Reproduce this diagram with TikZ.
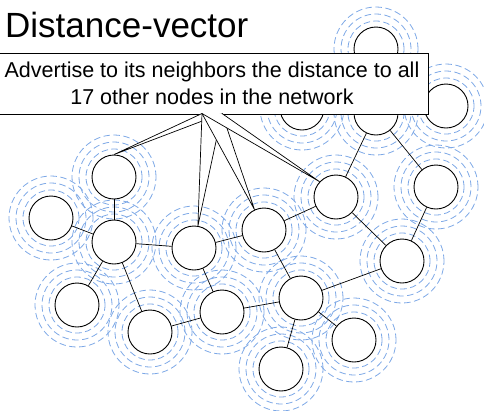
\documentclass[tikz,border=0pt]{standalone}
\usepackage{fontspec}
\setmainfont{Liberation Sans}
\definecolor{ringblue}{RGB}{125,168,230}
\usetikzlibrary{calc,backgrounds}

\begin{document}
\begin{tikzpicture}[x=1pt, y=-1pt,
  router/.style={circle, draw=black, line width=0.9pt, fill=white,
                 minimum size=44pt, inner sep=0pt},
  ring/.style={draw=ringblue, line width=0.8pt, dash pattern=on 6.5pt off 3.5pt},
  link/.style={draw=black, line width=0.7pt},
  callbox/.style={rectangle, draw=black, line width=1pt, fill=white,
                  minimum width=432pt, minimum height=61pt, align=center,
                  font=\fontsize{21.5}{26.7}\selectfont},
  tail/.style={draw=black, line width=0.7pt, fill=white}
]
\useasboundingbox (0,0) rectangle (484,410);

% Title
\node[anchor=base west, inner sep=0pt, font=\fontsize{35}{40}\selectfont]
  (title) at (5,37) {Distance-vector};

% Routers
\node[router] (n1)  at (376, 49) {};
\node[router] (n2)  at (302,108) {};
\node[router] (n3)  at (376,113) {};
\node[router] (n4)  at (446,106) {};
\node[router] (n5)  at (114,177) {};
\node[router] (n6)  at (336,197) {};
\node[router] (n7)  at (436,187) {};
\node[router] (n8)  at ( 51,218) {};
\node[router] (n9)  at (114,242) {};
\node[router] (n10) at (194,248) {};
\node[router] (n11) at (264,230) {};
\node[router] (n12) at (402,261) {};
\node[router] (n13) at ( 77,305) {};
\node[router] (n14) at (150,332) {};
\node[router] (n15) at (222,312) {};
\node[router] (n16) at (301,298) {};
\node[router] (n17) at (354,340) {};
\node[router] (n18) at (281,369) {};

% Rings and links
\begin{scope}[on background layer]
  \foreach \n in {1,...,18}
    \foreach \r in {28,35,42}
      \draw[ring] (n\n) circle (\r pt);
  \foreach \a/\b in {5/9, 8/9, 9/10, 9/13, 9/14, 10/15, 14/15, 15/16, 10/11,
                     11/6, 11/16, 16/12, 16/17, 16/18, 6/12, 3/6, 3/7, 7/12}
    \draw[link] (n\a) -- (n\b);
\end{scope}

% Callout
\node[callbox] (callout) at (212,83.5)
  {Advertise to its neighbors the distance to all\\17 other nodes in the network};
\coordinate (tailL) at ($(callout.south)+(-10,-1)$);
\coordinate (tailR) at ($(callout.south)+(10,-1)$);
\foreach \t in {n5.north, n10.80, n11.115, n6.137}
  \draw[tail] (tailL) -- (\t) -- (tailR);
\end{tikzpicture}
\end{document}
